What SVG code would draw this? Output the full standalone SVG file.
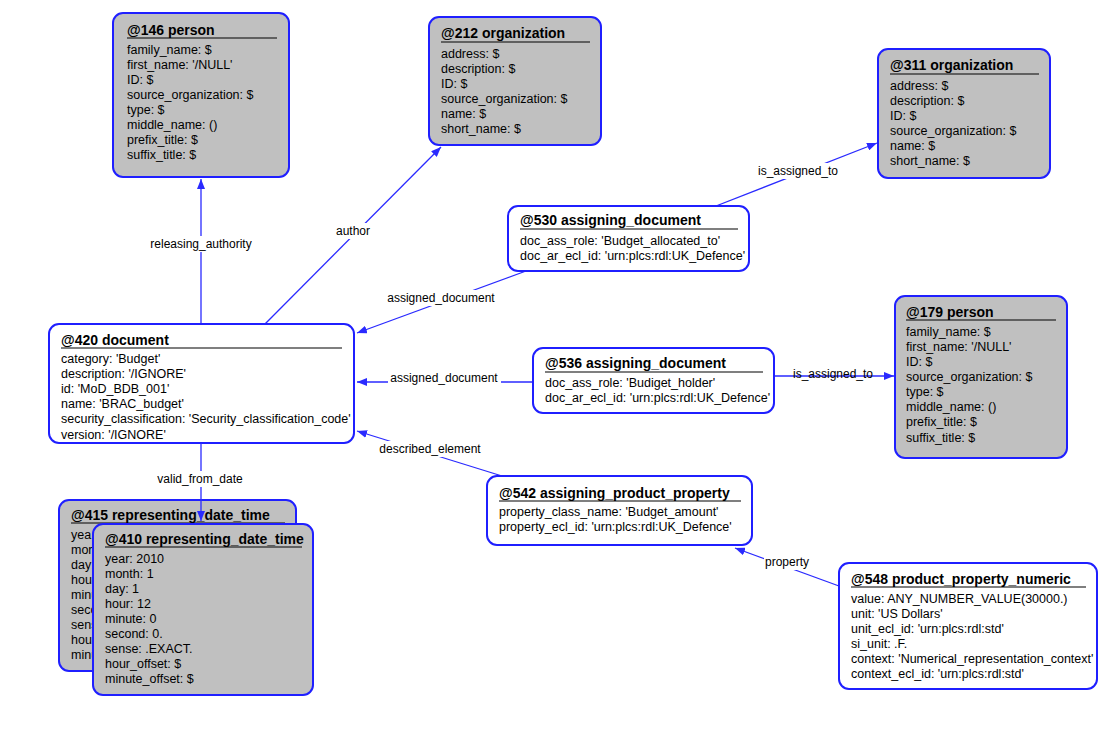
<svg xmlns="http://www.w3.org/2000/svg" width="1104" height="738" viewBox="0 0 1104 738">
<style>
.box{stroke:#1f1fff;stroke-width:2}
.g{fill:#c0c0c0}
.w{fill:#ffffff}
.t{font-family:"Liberation Sans",Arial,sans-serif;font-size:14px;font-weight:bold;fill:#000}
.b{font-family:"Liberation Sans",Arial,sans-serif;font-size:12.5px;fill:#000}
.ul{stroke:#000;stroke-width:1.2}
.c{stroke:#2a2aff;stroke-width:1.3;fill:none}
.lb{fill:#fff}
.l{font-family:"Liberation Sans",Arial,sans-serif;font-size:12px;fill:#000;text-anchor:middle}
</style>
<defs>
<marker id="ah" viewBox="0 0 10 8" refX="10" refY="4" markerWidth="10" markerHeight="8" markerUnits="userSpaceOnUse" orient="auto">
<path d="M0,0 L10,4 L0,8 Z" fill="#2a2aff"/>
</marker>
<clipPath id="clip415"><rect x="60" y="526" width="32" height="140"/></clipPath>
</defs>
<rect width="1104" height="738" fill="#fff"/>

<g id="connectors">
<line class="c" x1="201" y1="324" x2="201" y2="179" marker-end="url(#ah)"/>
<line class="c" x1="265" y1="324" x2="441" y2="147" marker-end="url(#ah)"/>
<line class="c" x1="716" y1="206" x2="877" y2="143" marker-end="url(#ah)"/>
<line class="c" x1="526" y1="271" x2="357" y2="333" marker-end="url(#ah)"/>
<line class="c" x1="533" y1="382" x2="357" y2="382" marker-end="url(#ah)"/>
<line class="c" x1="774" y1="376" x2="894" y2="376" marker-end="url(#ah)"/>
<line class="c" x1="502" y1="476" x2="357" y2="431" marker-end="url(#ah)"/>
<line class="c" x1="839" y1="586" x2="735" y2="548" marker-end="url(#ah)"/>
<rect class="lb" x="149" y="236" width="105" height="16"/>
<text class="l" x="201" y="248">releasing_authority</text>
<rect class="lb" x="334" y="223" width="39" height="16"/>
<text class="l" x="353" y="235">author</text>
<rect class="lb" x="756" y="163" width="85" height="16"/>
<text class="l" x="798" y="175">is_assigned_to</text>
<rect class="lb" x="385" y="290" width="113" height="16"/>
<text class="l" x="441" y="302">assigned_document</text>
<rect class="lb" x="388" y="370" width="113" height="13"/>
<text class="l" x="444" y="382">assigned_document</text>
<rect class="lb" x="791" y="366" width="85" height="9"/>
<text class="l" x="833" y="378">is_assigned_to</text>
<rect class="lb" x="377" y="441" width="107" height="16"/>
<text class="l" x="430" y="453">described_element</text>
<rect class="lb" x="764" y="554" width="47" height="16"/>
<text class="l" x="787" y="566">property</text>
</g>

<g id="n146">
<rect class="box g" x="113" y="13" width="176" height="164" rx="10"/>
<text class="t" x="127" y="35">@146 person</text>
<line class="ul" x1="127" y1="38" x2="277" y2="38"/>
<text class="b" x="127" y="54">family_name: $</text>
<text class="b" x="127" y="69">first_name: '/NULL'</text>
<text class="b" x="127" y="84">ID: $</text>
<text class="b" x="127" y="99">source_organization: $</text>
<text class="b" x="127" y="114">type: $</text>
<text class="b" x="127" y="129">middle_name: ()</text>
<text class="b" x="127" y="144">prefix_title: $</text>
<text class="b" x="127" y="159">suffix_title: $</text>
</g>

<g id="n212">
<rect class="box g" x="429" y="17" width="172" height="128" rx="10"/>
<text class="t" x="441" y="38">@212 organization</text>
<line class="ul" x1="441" y1="42" x2="590" y2="42"/>
<text class="b" x="441" y="58">address: $</text>
<text class="b" x="441" y="73">description: $</text>
<text class="b" x="441" y="88">ID: $</text>
<text class="b" x="441" y="103">source_organization: $</text>
<text class="b" x="441" y="118">name: $</text>
<text class="b" x="441" y="133">short_name: $</text>
</g>

<g id="n311">
<rect class="box g" x="878" y="49" width="172" height="129" rx="10"/>
<text class="t" x="890" y="70">@311 organization</text>
<line class="ul" x1="890" y1="74" x2="1039" y2="74"/>
<text class="b" x="890" y="90">address: $</text>
<text class="b" x="890" y="105">description: $</text>
<text class="b" x="890" y="120">ID: $</text>
<text class="b" x="890" y="135">source_organization: $</text>
<text class="b" x="890" y="150">name: $</text>
<text class="b" x="890" y="165">short_name: $</text>
</g>

<g id="n530">
<rect class="box w" x="508" y="206" width="241" height="65" rx="10"/>
<text class="t" x="520" y="225">@530 assigning_document</text>
<line class="ul" x1="520" y1="229" x2="738" y2="229"/>
<text class="b" x="520" y="245">doc_ass_role: 'Budget_allocated_to'</text>
<text class="b" x="520" y="260">doc_ar_ecl_id: 'urn:plcs:rdl:UK_Defence'</text>
</g>

<g id="n420">
<rect class="box w" x="49" y="324" width="305" height="119" rx="10"/>
<text class="t" x="61" y="345">@420 document</text>
<line class="ul" x1="61" y1="348" x2="342" y2="348"/>
<text class="b" x="61" y="363">category: 'Budget'</text>
<text class="b" x="61" y="378">description: '/IGNORE'</text>
<text class="b" x="61" y="393">id: 'MoD_BDB_001'</text>
<text class="b" x="61" y="408">name: 'BRAC_budget'</text>
<text class="b" x="61" y="423">security_classification: 'Security_classification_code'</text>
<text class="b" x="61" y="439">version: '/IGNORE'</text>
</g>

<g id="n536">
<rect class="box w" x="533" y="348" width="241" height="65" rx="10"/>
<text class="t" x="545" y="368">@536 assigning_document</text>
<line class="ul" x1="545" y1="372" x2="763" y2="372"/>
<text class="b" x="545" y="387">doc_ass_role: 'Budiget_holder'</text>
<text class="b" x="545" y="402">doc_ar_ecl_id: 'urn:plcs:rdl:UK_Defence'</text>
</g>

<g id="n179">
<rect class="box g" x="895" y="296" width="172" height="162" rx="10"/>
<text class="t" x="906" y="317">@179 person</text>
<line class="ul" x1="906" y1="320" x2="1056" y2="320"/>
<text class="b" x="906" y="336">family_name: $</text>
<text class="b" x="906" y="351">first_name: '/NULL'</text>
<text class="b" x="906" y="366">ID: $</text>
<text class="b" x="906" y="381">source_organization: $</text>
<text class="b" x="906" y="396">type: $</text>
<text class="b" x="906" y="411">middle_name: ()</text>
<text class="b" x="906" y="426">prefix_title: $</text>
<text class="b" x="906" y="442">suffix_title: $</text>
</g>

<g id="n415">
<rect class="box g" x="59" y="500" width="237" height="171" rx="10"/>
<text class="t" x="71" y="520">@415 representing_date_time</text>
<line class="ul" x1="71" y1="523" x2="285" y2="523"/>
<g clip-path="url(#clip415)">
<text class="b" x="71" y="539">yea</text>
<text class="b" x="71" y="554">mor</text>
<text class="b" x="71" y="569">day:</text>
<text class="b" x="71" y="584">hou</text>
<text class="b" x="71" y="599">minu</text>
<text class="b" x="71" y="614">seco</text>
<text class="b" x="71" y="629">sens</text>
<text class="b" x="71" y="644">hou</text>
<text class="b" x="71" y="659">minu</text>
</g>
</g>

<g id="connector-valid">
<rect class="lb" x="155" y="471" width="91" height="16"/>
<line class="c" x1="201" y1="443" x2="201" y2="471"/>
<line class="c" x1="201" y1="487" x2="201" y2="521" marker-end="url(#ah)"/>
<text class="l" x="200" y="483">valid_from_date</text>
</g>

<g id="n410">
<rect class="box g" x="93" y="524" width="220" height="171" rx="10"/>
<text class="t" x="105" y="544">@410 representing_date_time</text>
<line class="ul" x1="105" y1="547" x2="302" y2="547"/>
<text class="b" x="105" y="563">year: 2010</text>
<text class="b" x="105" y="578">month: 1</text>
<text class="b" x="105" y="593">day: 1</text>
<text class="b" x="105" y="608">hour: 12</text>
<text class="b" x="105" y="623">minute: 0</text>
<text class="b" x="105" y="638">second: 0.</text>
<text class="b" x="105" y="653">sense: .EXACT.</text>
<text class="b" x="105" y="668">hour_offset: $</text>
<text class="b" x="105" y="683">minute_offset: $</text>
</g>

<g id="n542">
<rect class="box w" x="487" y="476" width="265" height="69" rx="10"/>
<text class="t" x="499" y="498">@542 assigning_product_property</text>
<line class="ul" x1="499" y1="501" x2="741" y2="501"/>
<text class="b" x="499" y="516">property_class_name: 'Budget_amount'</text>
<text class="b" x="499" y="531">property_ecl_id: 'urn:plcs:rdl:UK_Defence'</text>
</g>

<g id="n548">
<rect class="box w" x="839" y="563" width="258" height="126" rx="10"/>
<text class="t" x="851" y="584">@548 product_property_numeric</text>
<line class="ul" x1="851" y1="587" x2="1086" y2="587"/>
<text class="b" x="851" y="603">value: ANY_NUMBER_VALUE(30000.)</text>
<text class="b" x="851" y="618">unit: 'US Dollars'</text>
<text class="b" x="851" y="633">unit_ecl_id: 'urn:plcs:rdl:std'</text>
<text class="b" x="851" y="648">si_unit: .F.</text>
<text class="b" x="851" y="663">context: 'Numerical_representation_context'</text>
<text class="b" x="851" y="678">context_ecl_id: 'urn:plcs:rdl:std'</text>
</g>
</svg>
